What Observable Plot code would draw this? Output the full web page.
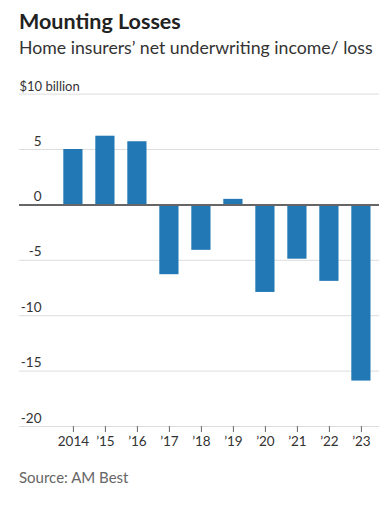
<!DOCTYPE html>
<html><head><meta charset="utf-8">
<script src="https://cdn.jsdelivr.net/npm/d3@7"></script>
<script src="https://cdn.jsdelivr.net/npm/@observablehq/plot@0.6"></script>
<style>
body{margin:0;background:#fff;font-family:Lato,sans-serif;}
#wrap{position:relative;width:388px;height:510px;overflow:hidden;}
#title{position:absolute;left:19px;top:11px;font-weight:700;font-size:21.5px;line-height:21px;color:#222;white-space:nowrap;}
#subtitle{position:absolute;left:19px;top:39px;font-size:17.7px;line-height:17px;color:#333;white-space:nowrap;}
#chart{position:absolute;left:0;top:60px;}
#source{position:absolute;left:19px;top:470px;font-size:15px;line-height:14px;color:#666;white-space:nowrap;}
</style></head>
<body><div id="wrap">
<div id="title">Mounting Losses</div>
<div id="subtitle">Home insurers’ net underwriting income/ loss</div>
<div id="chart"></div>
<div id="source">Source: AM Best</div>
</div>
<script>
const years = ["2014","2015","2016","2017","2018","2019","2020","2021","2022","2023"];
const values = [5.0, 6.2, 5.7, -6.3, -4.1, 0.5, -7.9, -4.9, -6.9, -15.9];
const xLabels = ["2014","’15","’16","’17","’18","’19","’20","’21","’22","’23"];
const yTicks = [10, 5, 0, -5, -10, -15, -20];
const yLabels = ["$10 billion","5","0","-5","-10","-15","-20"];

const data = years.map((y, i) => ({year: y, value: values[i]}));
const tickData = yTicks.map((v, i) => ({v, label: yLabels[i]}));

const chart = Plot.plot({
  width: 388, height: 400,
  marginTop: 33.6, marginBottom: 34, marginLeft: 19, marginRight: 9,
  style: {fontFamily: "Lato, sans-serif", fontSize: "13.5px", color: "#333", background: "transparent"},
  x: {domain: years, paddingInner: 0.4, paddingOuter: 0.825, align: 0.839, round: false},
  y: {domain: [-20, 10], axis: null},
  marks: [
    Plot.ruleY(yTicks.filter(d => d !== 0), {stroke: "#ddd", strokeWidth: 1}),
    Plot.barY(data, {x: "year", y: "value", fill: "#2178b4"}),
    Plot.ruleY([0], {stroke: "#666", strokeWidth: 2}),
    Plot.text(tickData.slice(1), {y: "v", text: "label", frameAnchor: "left", textAnchor: "end", dx: 22, lineAnchor: "bottom", dy: -4, fill: "#333"}),
    Plot.text(tickData.slice(0, 1), {y: "v", text: "label", fontSize: 13, frameAnchor: "left", textAnchor: "start", lineAnchor: "bottom", dy: -3.5, fill: "#333"}),
    Plot.axisX({tickSize: 6, tickPadding: 4, stroke: "#666", fill: "#333", label: null, tickFormat: d => xLabels[years.indexOf(d)]})
  ]
});
document.getElementById("chart").appendChild(chart);
</script>
</body></html>
